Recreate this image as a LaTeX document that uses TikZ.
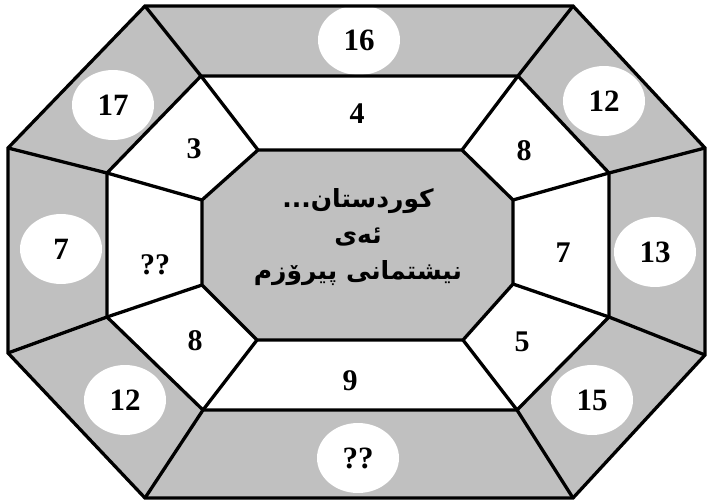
\documentclass[tikz,border=0pt]{standalone}
\usepackage{fontspec}
\setmainfont{Liberation Serif}
\newfontfamily\kurdfont[Script=Arabic]{DejaVu Sans}
\TeXXeTstate=1
\usetikzlibrary{shapes.geometric}
\definecolor{gris}{RGB}{192,192,192}
\tikzset{
  oval/.style={ellipse, fill=white, minimum width=82pt, minimum height=70pt, inner sep=0pt,
    font=\fontsize{31}{31}\selectfont\bfseries},
  casilla/.style={inner sep=0pt, font=\fontsize{30}{30}\selectfont\bfseries},
  borde/.style={line width=3.3pt, line join=miter}
}
\begin{document}
\begin{tikzpicture}[x=1pt,y=-1pt]
\useasboundingbox (0,0) rectangle (707,503);

	%vertices del octogono de fuera
	\coordinate (o1) at (145,6);   \coordinate (o2) at (573,6);
	\coordinate (o3) at (705,148); \coordinate (o4) at (705,355);
	\coordinate (o5) at (573,498); \coordinate (o6) at (145,498);
	\coordinate (o7) at (8,353);   \coordinate (o8) at (8,148);
	%vertices del octogono del medio
	\coordinate (m1) at (201,76);  \coordinate (m2) at (518,76);
	\coordinate (m3) at (609,173); \coordinate (m4) at (609,317);
	\coordinate (m5) at (517,410); \coordinate (m6) at (203,410);
	\coordinate (m7) at (107,317); \coordinate (m8) at (107,173);
	%vertices del octogono de dentro
	\coordinate (i1) at (258,150); \coordinate (i2) at (462,150);
	\coordinate (i3) at (513,200); \coordinate (i4) at (513,284);
	\coordinate (i5) at (463,340); \coordinate (i6) at (257,340);
	\coordinate (i7) at (202,285); \coordinate (i8) at (202,200);

	%rellenos
	\fill[gris] (o1)--(o2)--(o3)--(o4)--(o5)--(o6)--(o7)--(o8)--cycle;
	\fill[white] (m1)--(m2)--(m3)--(m4)--(m5)--(m6)--(m7)--(m8)--cycle;
	\fill[gris] (i1)--(i2)--(i3)--(i4)--(i5)--(i6)--(i7)--(i8)--cycle;

	%ovalos blancos del anillo de fuera
	\node[oval] (ext1) at (359,40) {16};
	\node[oval] (ext2) at (604,101) {12};
	\node[oval] (ext3) at (655,252) {13};
	\node[oval] (ext4) at (592,400) {15};
	\node[oval] (ext5) at (358,458) {??};
	\node[oval] (ext6) at (125,400) {12};
	\node[oval] (ext7) at (61,249) {7};
	\node[oval] (ext8) at (113,105) {17};

	%lineas
	\draw[borde] (o1)--(o2)--(o3)--(o4)--(o5)--(o6)--(o7)--(o8)--cycle;
	\draw[borde] (m1)--(m2)--(m3)--(m4)--(m5)--(m6)--(m7)--(m8)--cycle;
	\draw[borde] (i1)--(i2)--(i3)--(i4)--(i5)--(i6)--(i7)--(i8)--cycle;
	\foreach \k in {1,...,8}
		\draw[borde] (o\k) -- (m\k) -- (i\k);

	%numeros del anillo del medio
	\node[casilla] (med1) at (357,114) {4};
	\node[casilla] (med2) at (524,151) {8};
	\node[casilla] (med3) at (563,253) {7};
	\node[casilla] (med4) at (522,342) {5};
	\node[casilla] (med5) at (350,381) {9};
	\node[casilla] (med6) at (195,341) {8};
	\node[casilla] (med7) at (155,265) {??};
	\node[casilla] (med8) at (194,149) {3};

	%texto del centro
	\node[align=center, font=\kurdfont\bfseries\fontsize{25}{36}\selectfont] (centro) at (358,237)
		{\beginR کوردستان...\endR\\ \beginR ئەی\endR\\ \beginR نیشتمانی پیرۆزم\endR};

\end{tikzpicture}
\end{document}
